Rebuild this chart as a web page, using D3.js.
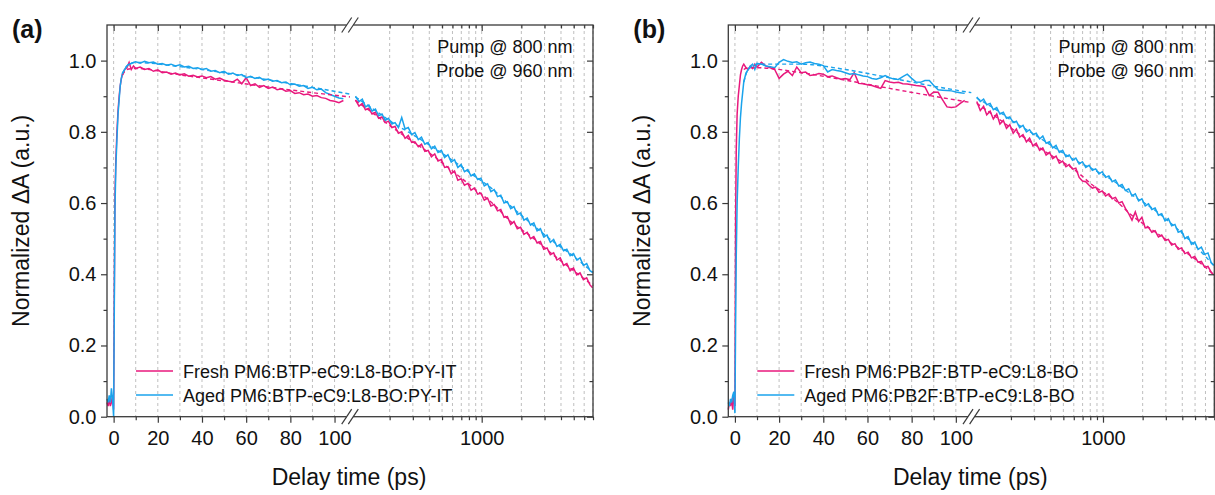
<!DOCTYPE html>
<html>
<head>
<meta charset="utf-8">
<script src="https://cdn.jsdelivr.net/npm/d3@7"></script>
<style>
  body { margin: 0; background: #fff; }
  svg { display: block; font-family: "Liberation Sans", Arial, sans-serif; }
</style>
</head>
<body>
<svg id="chart" width="1215" height="495"></svg>
<script>
// ---- data ----
const tLin = [-3, -2.5, -2, -1.5, -1, -0.5, 0, 0.3, 0.6, 1, 1.5, 2, 2.5, 3, 3.5, 4, 5, 6, 7, 8, 9, 10,
  12, 14, 16, 18, 20, 22, 24, 26, 28, 30, 32, 34, 36, 38, 40, 42, 44, 46, 48, 50, 52, 54, 56, 58, 60,
  62, 64, 66, 68, 70, 72, 74, 76, 78, 80, 82, 84, 86, 88, 90, 92, 94, 96, 98, 100, 102, 104];

const tLog = [110, 117, 124, 131, 139, 147, 156, 165, 175, 185, 196, 208, 220, 233, 247, 262, 277, 294,
  311, 330, 349, 370, 392, 415, 440, 466, 494, 523, 554, 587, 622, 659, 698, 740, 784, 830, 880, 932,
  987, 1046, 1108, 1174, 1244, 1318, 1396, 1479, 1567, 1660, 1759, 1863, 1974, 2092, 2216, 2348, 2487,
  2635, 2792, 2958, 3134, 3320, 3517, 3726, 3948, 4183, 4431, 4695, 4974, 5270, 5583, 5915, 6267, 6640, 6950];

const freshA_lin = [.04, .03, .05, .03, .04, .06, .02, .35, .62, .72, .80, .86, .90, .93, .95, .96, .975, .98, .995, .975, .985, .978,
  .982, .975, .978, .970, .974, .966, .968, .962, .965, .960, .963, .956, .959, .954, .957, .952, .955, .948, .951, .945, .942, .940, .948, .935, .952,
  .930, .935, .925, .930, .922, .926, .918, .921, .914, .916, .908, .910, .904, .906, .900, .902, .896, .894, .888, .886, .882, .888];
const agedA_lin = [.05, .04, .06, .04, .08, .05, 0, .30, .58, .70, .78, .85, .89, .93, .95, .965, .975, .985, .99, .992, .995, .997,
  .993, .998, .994, .996, .990, .992, .987, .990, .985, .988, .982, .984, .978, .980, .975, .978, .970, .972, .966, .970, .962, .965, .958, .961, .952,
  .956, .950, .953, .945, .948, .942, .944, .938, .940, .932, .934, .928, .930, .922, .925, .918, .920, .910, .905, .900, .895, .893];
const freshB_lin = [.02, .04, .03, .05, .02, .06, .03, .55, .75, .85, .90, .93, .96, .975, .985, .99, .98, .975, .985, .978, .990, .982,
  .995, .985, .980, .975, .950, .962, .970, .958, .982, .966, .968, .958, .960, .964, .962, .955, .957, .952, .948, .950, .946, .966, .936, .935, .932,
  .930, .926, .922, .944, .940, .938, .939, .935, .934, .932, .930, .929, .926, .902, .912, .911, .890, .870, .868, .870, .880, .888];
const agedB_lin = [.04, .03, .05, .04, .06, .07, .01, .25, .45, .60, .70, .78, .84, .88, .91, .94, .965, .975, .985, .99, .975, .992,
  .990, .985, .983, .980, .995, 1.003, .998, .995, .997, .990, .994, .996, .992, .990, .986, .968, .975, .972, .970, .966, .962, .964, .960, .957, .955,
  .950, .948, .952, .958, .952, .948, .947, .955, .962, .950, .940, .939, .944, .944, .930, .918, .917, .916, .915, .912, .910, .908];

const freshA_log = [.890, .872, .880, .862, .866, .850, .855, .838, .842, .826, .830, .812, .815, .796, .800, .782, .790, .770,
  .772, .758, .765, .745, .748, .730, .738, .718, .722, .700, .702, .682, .690, .664, .668, .650, .655, .636, .642, .625,
  .628, .608, .614, .592, .596, .578, .582, .560, .562, .540, .548, .528, .532, .512, .518, .500, .506,
  .488, .492, .470, .474, .455, .460, .440, .446, .425, .430, .410, .418, .398, .404, .385, .390, .370, .362];
const agedA_log = [.900, .885, .892, .870, .875, .858, .864, .845, .850, .832, .838, .822, .826, .812, .840, .808, .812, .792,
  .798, .778, .785, .765, .770, .752, .760, .742, .748, .728, .736, .715, .722, .700, .708, .688, .694, .676, .682, .666,
  .670, .648, .654, .632, .638, .618, .622, .600, .604, .584, .590, .568, .572, .552, .558, .538, .544,
  .522, .528, .505, .510, .490, .498, .478, .484, .466, .470, .452, .458, .440, .446, .425, .430, .410, .405];
const freshB_log = [.885, .860, .872, .848, .858, .836, .850, .822, .832, .810, .820, .796, .808, .785, .792, .772, .782, .760,
  .768, .748, .755, .735, .742, .725, .732, .712, .718, .702, .708, .695, .698, .672, .662, .660, .650, .642, .645, .630,
  .634, .620, .626, .612, .616, .600, .604, .585, .570, .552, .575, .548, .560, .530, .532, .518, .522,
  .505, .510, .495, .498, .482, .486, .470, .474, .458, .462, .446, .450, .434, .436, .420, .422, .405, .398];
const agedB_log = [.898, .885, .892, .876, .880, .862, .868, .850, .855, .838, .842, .826, .830, .812, .818, .800, .806, .792,
  .796, .780, .788, .768, .772, .755, .762, .742, .748, .730, .735, .720, .726, .710, .716, .700, .706, .692, .696, .682,
  .688, .672, .676, .660, .665, .648, .652, .635, .640, .620, .626, .606, .612, .592, .598, .582, .586,
  .566, .570, .550, .556, .536, .540, .518, .522, .500, .506, .484, .490, .470, .476, .456, .460, .432, .425];

// fitted curves (dashed)
const fitLinT = [4, 6, 10, 30, 50, 70, 90, 107];
const fitLogT = [110, 150, 210, 300, 420, 600, 850, 1200, 1700, 2400, 3400, 4800, 7000];
const fitFreshA_lin = [.96, .975, .978, .96, .943, .926, .91, .898];
const fitAgedA_lin = [.962, .985, .995, .983, .966, .946, .925, .906];
const fitFreshB_lin = [.975, .98, .98, .966, .945, .922, .90, .882];
const fitAgedB_lin = [.94, .975, .99, .99, .975, .952, .928, .91];
const fitFreshA_log = [.888, .852, .812, .772, .735, .69, .645, .60, .545, .505, .458, .415, .368];
const fitAgedA_log = [.898, .864, .826, .792, .758, .72, .68, .64, .588, .541, .495, .455, .405];
const fitFreshB_log = [.88, .845, .805, .765, .73, .695, .648, .612, .562, .523, .484, .448, .398];
const fitAgedB_log = [.895, .865, .828, .793, .758, .722, .694, .662, .62, .584, .538, .487, .423];

const linMajor = [0, 20, 40, 60, 80, 100];
const linMinor = [10, 30, 50, 70, 90];
const logMajor = [1000];
const logMinor = [200, 300, 400, 500, 600, 700, 800, 900, 2000, 3000, 4000, 5000, 6000, 7000];
const yMajor = [0, 0.2, 0.4, 0.6, 0.8, 1.0];
const yMinor = [0.1, 0.3, 0.5, 0.7, 0.9];

const panelLabels = ['(a)', '(b)'];
const legendNames = [
  ['Fresh PM6:BTP-eC9:L8-BO:PY-IT', 'Aged PM6:BTP-eC9:L8-BO:PY-IT'],
  ['Fresh PM6:PB2F:BTP-eC9:L8-BO', 'Aged PM6:PB2F:BTP-eC9:L8-BO']
];
const notes = ['Pump @ 800 nm', 'Probe @ 960 nm'];

const PINK = '#e8197d';
const BLUE = '#1aa3ec';

// ---- layout ----
const svg = d3.select('#chart');
const W = 486, H = 391.7, brkW = 243;
const origins = [[107, 25], [728.3, 25]];

const panels = [
  { fresh: [freshA_lin, freshA_log], aged: [agedA_lin, agedA_log],
    fitF: [fitFreshA_lin, fitFreshA_log], fitA: [fitAgedA_lin, fitAgedA_log] },
  { fresh: [freshB_lin, freshB_log], aged: [agedB_lin, agedB_log],
    fitF: [fitFreshB_lin, fitFreshB_log], fitA: [fitAgedB_lin, fitAgedB_log] }
];

const xLin = d3.scaleLinear().domain([-3, 107]).range([0, brkW]);
const xLog = d3.scaleLog().domain([100, 7000]).range([brkW, W]);
const y = d3.scaleLinear().domain([0, 1.1]).range([H, 0]);

function pts(ts, vs) { return ts.map((t, i) => [t, vs[i]]); }

panels.forEach(function(p, k) {
  const g = svg.append('g').attr('transform', 'translate(' + origins[k][0] + ',' + origins[k][1] + ')');

  // vertical dashed grid
  const gridX = linMajor.concat(linMinor).map(d => xLin(d))
    .concat(logMajor.concat(logMinor).map(d => xLog(d)));
  g.append('g').selectAll('line').data(gridX).enter().append('line')
    .attr('x1', d => d).attr('x2', d => d).attr('y1', 0).attr('y2', H)
    .attr('stroke', '#b8b8b8').attr('stroke-width', 0.9).attr('stroke-dasharray', '3,3');

  const lineLin = d3.line().x(d => xLin(d[0])).y(d => y(d[1]));
  const lineLog = d3.line().x(d => xLog(d[0])).y(d => y(d[1]));
  const fitLin = d3.line().x(d => xLin(d[0])).y(d => y(d[1])).curve(d3.curveMonotoneX);
  const fitLog = d3.line().x(d => xLog(d[0])).y(d => y(d[1])).curve(d3.curveMonotoneX);

  [[p.fresh, p.fitF, PINK], [p.aged, p.fitA, BLUE]].forEach(function(s) {
    g.append('path').attr('d', lineLin(pts(tLin, s[0][0])))
      .attr('fill', 'none').attr('stroke', s[2]).attr('stroke-width', 1.5);
    g.append('path').attr('d', lineLog(pts(tLog, s[0][1])))
      .attr('fill', 'none').attr('stroke', s[2]).attr('stroke-width', 1.5);
  });
  [[p.fitF, PINK], [p.fitA, BLUE]].forEach(function(s) {
    g.append('path').attr('d', fitLin(pts(fitLinT, s[0][0])))
      .attr('fill', 'none').attr('stroke', s[1]).attr('stroke-width', 1.4).attr('stroke-dasharray', '4,3');
    g.append('path').attr('d', fitLog(pts(fitLogT, s[0][1])))
      .attr('fill', 'none').attr('stroke', s[1]).attr('stroke-width', 1.4).attr('stroke-dasharray', '4,3');
  });

  // frame
  g.append('rect').attr('x', 0).attr('y', 0).attr('width', W).attr('height', H)
    .attr('fill', 'none').attr('stroke', '#3a3a3a').attr('stroke-width', 1.3);

  // axes
  function ax(axisFn, scale, vals, size, pos, labels) {
    const a = axisFn(scale).tickValues(vals).tickSize(size).tickSizeOuter(0);
    if (labels) a.tickFormat(labels); else a.tickFormat('');
    const sel = g.append('g').attr('transform', pos).call(a);
    sel.select('.domain').remove();
    sel.selectAll('.tick line').attr('stroke', '#3a3a3a').attr('stroke-width', 1.2);
    sel.selectAll('text').attr('fill', '#111').style('font-size', '20px').style('font-family', '"Liberation Sans", Arial, sans-serif');
    return sel;
  }
  // bottom (outward) + top (inward)
  ax(d3.axisBottom, xLin, linMajor, 6, 'translate(0,' + H + ')', d3.format('d')).selectAll('text').attr('dy', '0.95em');
  ax(d3.axisBottom, xLin, linMinor, 3.5, 'translate(0,' + H + ')');
  ax(d3.axisBottom, xLog, logMajor, 6, 'translate(0,' + H + ')', d3.format('d')).selectAll('text').attr('dy', '0.95em');
  ax(d3.axisBottom, xLog, logMinor, 3.5, 'translate(0,' + H + ')');
  ax(d3.axisTop, xLin, linMajor, -6, 'translate(0,0)');
  ax(d3.axisTop, xLin, linMinor, -3.5, 'translate(0,0)');
  ax(d3.axisTop, xLog, logMajor, -6, 'translate(0,0)');
  ax(d3.axisTop, xLog, logMinor, -3.5, 'translate(0,0)');
  // left (outward) + right (inward)
  ax(d3.axisLeft, y, yMajor, 6, 'translate(0,0)', d3.format('.1f')).selectAll('text').attr('x', -10.5);
  ax(d3.axisLeft, y, yMinor, 3.5, 'translate(0,0)');
  ax(d3.axisRight, y, yMajor, -6, 'translate(' + W + ',0)');
  ax(d3.axisRight, y, yMinor, -3.5, 'translate(' + W + ',0)');

  // axis break marks
  [0, H].forEach(function(yy) {
    g.append('rect').attr('x', brkW - 3.3).attr('y', yy - 2).attr('width', 6.6).attr('height', 4).attr('fill', '#fff');
    [-3.3, 3.3].forEach(function(dx) {
      g.append('line')
        .attr('x1', brkW + dx - 5).attr('y1', yy + 7.5)
        .attr('x2', brkW + dx + 5).attr('y2', yy - 7.5)
        .attr('stroke', '#3a3a3a').attr('stroke-width', 1.2);
    });
  });

  // titles
  g.append('text').attr('x', xLin(-3) + brkW / 1 - 1).attr('y', H + 68)
    .attr('text-anchor', 'middle').style('font-size', '23px').attr('fill', '#111')
    .text('Delay time (ps)');
  g.append('text').attr('transform', 'translate(' + (-78) + ',' + (H / 2) + ') rotate(-90)')
    .attr('text-anchor', 'middle').style('font-size', '23px').attr('fill', '#111')
    .text('Normalized \u0394A (a.u.)');
  g.append('text').attr('x', -95).attr('y', 12.5)
    .style('font-size', '25px').style('font-weight', 'bold').attr('fill', '#111')
    .text(panelLabels[k]);

  // pump/probe note
  notes.forEach(function(n, i) {
    g.append('text').attr('x', W - 20.5).attr('y', 28 + i * 24)
      .attr('text-anchor', 'end').style('font-size', '18px').attr('fill', '#111').text(n);
  });

  // legend
  [PINK, BLUE].forEach(function(c, i) {
    const ly = 346 + i * 24;
    g.append('line').attr('x1', 29).attr('x2', 66).attr('y1', ly).attr('y2', ly)
      .attr('stroke', c).attr('stroke-width', 1.6);
    g.append('text').attr('x', 76).attr('y', ly + 6.5)
      .style('font-size', '18px').attr('fill', '#111').text(legendNames[k][i]);
  });
});
</script>
</body>
</html>
